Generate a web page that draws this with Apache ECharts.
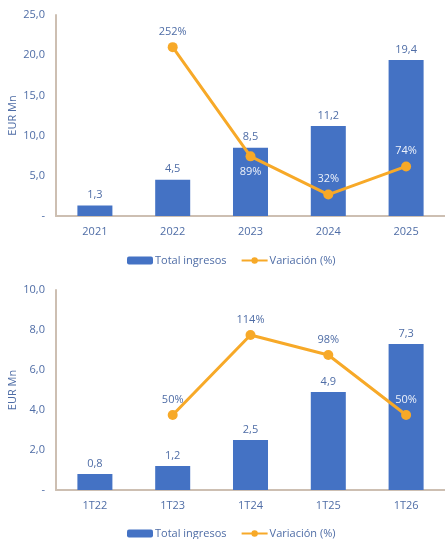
<!DOCTYPE html>
<html>
<head>
<meta charset="utf-8">
<script src="https://cdn.jsdelivr.net/npm/echarts@6/dist/echarts.min.js"></script>
<style>html,body{margin:0;padding:0;background:#fff}#c{width:445px;height:539px}</style>
</head>
<body>
<div id="c"></div>
<script>
const yearCats = ['2021','2022','2023','2024','2025'];
const yearIngresos = [1.3, 4.5, 8.5, 11.2, 19.4];
const yearVariacion = [null, 252, 89, 32, 74];
const quarterCats = ['1T22','1T23','1T24','1T25','1T26'];
const quarterIngresos = [0.8, 1.2, 2.5, 4.9, 7.3];
const quarterVariacion = [null, 50, 114, 98, 50];
const yearTicks = [0, 5, 10, 15, 20, 25];
const quarterTicks = [0, 2, 4, 6, 8, 10];

const FONT = 'Open Sans';
const TXT = '#4F6DA6';
const AXIS = '#CDBFB2';
const BLUE = '#4472C4';
const ORANGE = '#F7A928';

const fmtNum = v => v === 0 ? '-' : v.toFixed(1).replace('.', ',');

// per-point label styling (position/color) for line labels
const yearLineStyle = [null, ['top', TXT], ['bottom', '#EEF2FA'], ['top', '#EEF2FA'], ['top', '#EEF2FA']];
const quarterLineStyle = [null, ['top', TXT], ['top', TXT], ['top', TXT], ['top', '#EEF2FA']];

function lineData(vals, styles) {
  return vals.map((v, i) => v == null ? null : {
    value: v,
    label: { position: styles[i][0], color: styles[i][1] }
  });
}

const grids = [
  { left: 56, right: 0, top: 15, height: 201, outerBoundsMode: 'none', containLabel: false },
  { left: 56, right: 0, top: 290, height: 200, outerBoundsMode: 'none', containLabel: false }
];

function xAxis(cats, gi) {
  return {
    type: 'category', gridIndex: gi, data: cats,
    axisLine: { lineStyle: { color: AXIS, width: 2 } },
    axisTick: { show: false },
    axisLabel: { color: TXT, fontFamily: FONT, fontSize: 11, margin: 10 }
  };
}
function yAxis(ticks, gi) {
  return {
    type: 'value', gridIndex: gi, min: ticks[0], max: ticks[ticks.length - 1],
    interval: ticks[1] - ticks[0],
    name: 'EUR Mn', nameLocation: 'middle', nameGap: 38, nameMoveOverlap: false,
    nameTextStyle: { color: TXT, fontFamily: FONT, fontSize: 11 },
    axisLine: { show: true, lineStyle: { color: AXIS, width: 2 } },
    axisTick: { show: false },
    splitLine: { show: false },
    axisLabel: { color: TXT, fontFamily: FONT, fontSize: 11, margin: 11, formatter: fmtNum }
  };
}

function barSeries(vals, idx) {
  return {
    type: 'bar', name: 'Total ingresos', xAxisIndex: idx, yAxisIndex: idx * 2,
    data: vals, barWidth: '45%',
    itemStyle: { color: BLUE },
    label: { show: true, position: 'top', distance: 5, color: TXT, fontFamily: FONT, fontSize: 11,
      formatter: p => p.value.toFixed(1).replace('.', ',') }
  };
}
function lineSeries(vals, styles, idx) {
  return {
    type: 'line', name: 'Variación (%)', xAxisIndex: idx, yAxisIndex: idx * 2 + 1,
    data: lineData(vals, styles), connectNulls: false,
    symbol: 'circle', symbolSize: 10,
    lineStyle: { color: ORANGE, width: 3 },
    itemStyle: { color: ORANGE },
    label: { show: true, distance: 5, fontFamily: FONT, fontSize: 11, formatter: p => p.value + '%' }
  };
}

const legendBase = {
  data: ['Total ingresos', 'Variación (%)'],
  left: 122, itemWidth: 26, itemHeight: 8, itemGap: 14,
  textStyle: { color: TXT, fontFamily: FONT, fontSize: 11, padding: [0, 0, 0, -3] },
  selectedMode: false
};

const chart = echarts.init(document.getElementById('c'), null, { renderer: 'canvas' });
chart.setOption({
  animation: false,
  grid: grids,
  legend: [
    Object.assign({}, legendBase, { top: 250 }),
    Object.assign({}, legendBase, { top: 523 })
  ],
  xAxis: [xAxis(yearCats, 0), xAxis(quarterCats, 1)],
  yAxis: [
    yAxis(yearTicks, 0),
    { type: 'value', gridIndex: 0, min: 0, max: 300, show: false, splitLine: { show: false } },
    yAxis(quarterTicks, 1),
    { type: 'value', gridIndex: 1, min: -10, max: 150, show: false, splitLine: { show: false } }
  ],
  series: [
    barSeries(yearIngresos, 0),
    lineSeries(yearVariacion, yearLineStyle, 0),
    barSeries(quarterIngresos, 1),
    lineSeries(quarterVariacion, quarterLineStyle, 1)
  ]
});
</script>
</body>
</html>
